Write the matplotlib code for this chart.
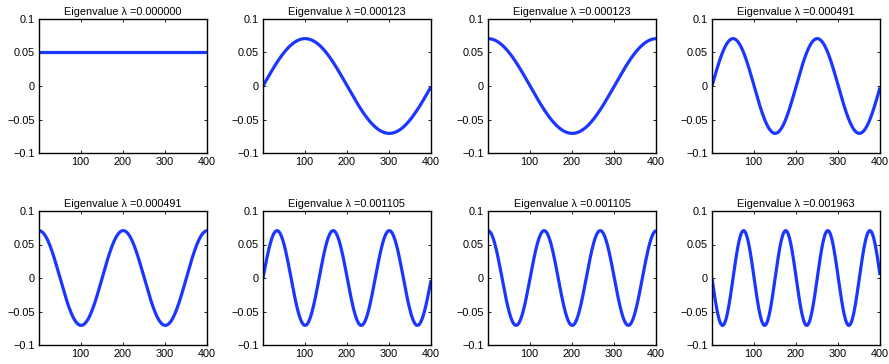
import numpy as np
import matplotlib
matplotlib.use("Agg")
import matplotlib.pyplot as plt

plt.rcParams['font.family'] = ['Liberation Sans', 'DejaVu Sans']

N = 400
eigenvalues = ["0.000000", "0.000123", "0.000123", "0.000491",
               "0.000491", "0.001105", "0.001105", "0.001963"]
freqs = [0, 1, 1, 2, 2, 3, 3, 4]
kinds = ["const", "sin", "cos", "sin", "cos", "sin", "cos", "-sin"]
amplitude = 0.0707
constant = 0.05
xticks = [100, 200, 300, 400]
yticks = [-0.1, -0.05, 0, 0.05, 0.1]
yticklabels = ["\u22120.1", "\u22120.05", "0", "0.05", "0.1"]

x = np.arange(1, N + 1)

fig = plt.figure(figsize=(8.89, 3.64), dpi=100)
W, H = 889, 364
lefts = [39, 263, 488, 712]
tops = [19, 211]
aw, ah = 168, 134

color = '#1a36ff'
for i in range(8):
    r, c = divmod(i, 4)
    ax = fig.add_axes([lefts[c] / W, 1 - (tops[r] + ah) / H, aw / W, ah / H])
    k = freqs[i]
    t = 2 * np.pi * k * (x - 1) / N
    if kinds[i] == "const":
        y = np.full_like(x, constant, dtype=float)
    elif kinds[i] == "sin":
        y = amplitude * np.sin(t)
    elif kinds[i] == "cos":
        y = amplitude * np.cos(t)
    else:
        y = -amplitude * np.sin(t)
    ax.plot(x, y, color=color, lw=2.3, solid_capstyle='butt')
    ax.set_xlim(1, 400)
    ax.set_ylim(-0.1, 0.1)
    ax.set_xticks(xticks)
    ax.set_yticks(yticks)
    ax.set_yticklabels(yticklabels)
    ax.tick_params(direction='in', top=True, right=True, labelsize=7.8,
                   length=2.5, width=0.6, pad=3)
    for s in ax.spines.values():
        s.set_linewidth(1.0)
    ax.set_title("Eigenvalue \u03bb =" + eigenvalues[i], fontsize=7.8, pad=3)

fig.savefig("out.png", dpi=100)
